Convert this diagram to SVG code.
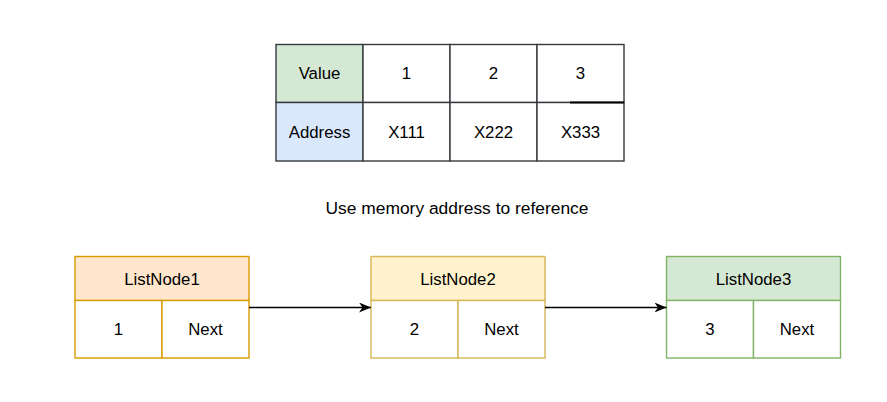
<svg xmlns="http://www.w3.org/2000/svg" width="887" height="402" viewBox="0 0 887 402">
<defs>
<style>
text{font-family:"Liberation Sans",Arial,sans-serif;font-size:16.8px;fill:#000;text-anchor:middle}
.cap{font-size:17.4px}
.tb{stroke:#36393d;stroke-width:1.4}
.n1{stroke:#d79b00;stroke-width:1.4}
.n2{stroke:#d6b656;stroke-width:1.4}
.n3{stroke:#82b366;stroke-width:1.4}
.conn{stroke:#000;stroke-width:1.4;fill:none}
</style>
<marker id="arr" viewBox="0 0 12 10" refX="12" refY="5" markerWidth="12" markerHeight="10" markerUnits="userSpaceOnUse" orient="auto">
<path d="M0,0 L12,5 L0,10 L3.5,5 Z" fill="#000"/>
</marker>
</defs>
<rect width="887" height="402" fill="#fff"/>
<g id="table">
<rect x="276" y="44.5" width="87" height="58" fill="#d5e8d4" class="tb"/>
<rect x="276" y="102.5" width="87" height="58.5" fill="#dae8fc" class="tb"/>
<rect x="363" y="44.5" width="87" height="58" fill="#fff" class="tb"/>
<rect x="450" y="44.5" width="87" height="58" fill="#fff" class="tb"/>
<rect x="537" y="44.5" width="87" height="58" fill="#fff" class="tb"/>
<rect x="363" y="102.5" width="87" height="58.5" fill="#fff" class="tb"/>
<rect x="450" y="102.5" width="87" height="58.5" fill="#fff" class="tb"/>
<rect x="537" y="102.5" width="87" height="58.5" fill="#fff" class="tb"/>
<line x1="570" y1="102.5" x2="624" y2="102.5" stroke="#000" stroke-width="2"/>
<text x="319.5" y="79">Value</text>
<text x="406.5" y="79">1</text>
<text x="493.5" y="79">2</text>
<text x="580.5" y="79">3</text>
<text x="319.5" y="137.5">Address</text>
<text x="406.5" y="137.5">X111</text>
<text x="493.5" y="137.5">X222</text>
<text x="580.5" y="137.5">X333</text>
</g>
<g id="caption">
<text class="cap" x="457" y="214">Use memory address to reference</text>
</g>
<g id="listnode1">
<rect x="75" y="256.5" width="174" height="44" fill="#ffe6cc" class="n1"/>
<rect x="75" y="300.5" width="87" height="57.5" fill="#fff" class="n1"/>
<rect x="162" y="300.5" width="87" height="57.5" fill="#fff" class="n1"/>
<text x="162" y="284.5">ListNode1</text>
<text x="118.5" y="335">1</text>
<text x="205.5" y="335">Next</text>
</g>
<g id="listnode2">
<rect x="371" y="256.5" width="174" height="44" fill="#fff2cc" class="n2"/>
<rect x="371" y="300.5" width="87" height="57.5" fill="#fff" class="n2"/>
<rect x="458" y="300.5" width="87" height="57.5" fill="#fff" class="n2"/>
<text x="458" y="284.5">ListNode2</text>
<text x="414.5" y="335">2</text>
<text x="501.5" y="335">Next</text>
</g>
<g id="listnode3">
<rect x="666.5" y="256.5" width="174" height="44" fill="#d5e8d4" class="n3"/>
<rect x="666.5" y="300.5" width="87" height="57.5" fill="#fff" class="n3"/>
<rect x="753.5" y="300.5" width="87" height="57.5" fill="#fff" class="n3"/>
<text x="753.5" y="284.5">ListNode3</text>
<text x="710" y="335">3</text>
<text x="797" y="335">Next</text>
</g>
<g id="connectors">
<line x1="249" y1="307.5" x2="371" y2="307.5" class="conn" marker-end="url(#arr)"/>
<line x1="545" y1="307.5" x2="666.5" y2="307.5" class="conn" marker-end="url(#arr)"/>
</g>
</svg>
